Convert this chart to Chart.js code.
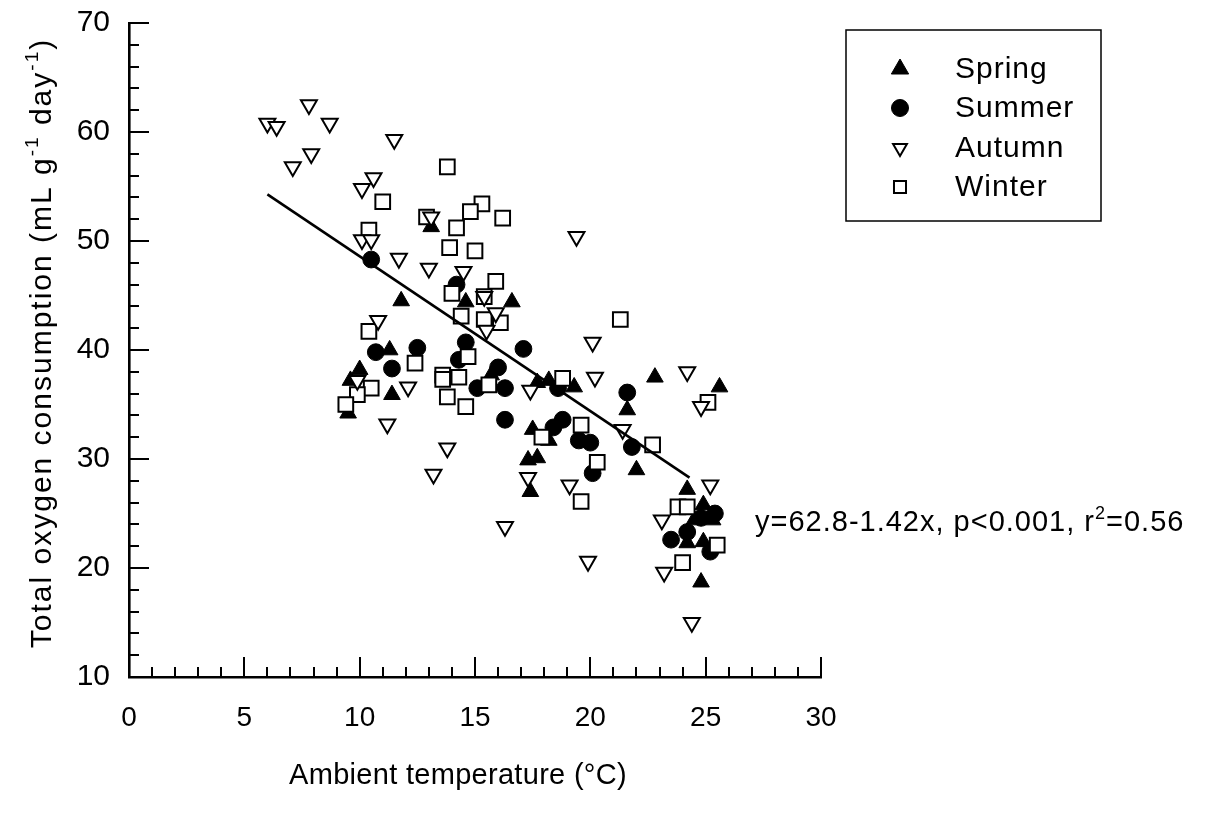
<!DOCTYPE html>
<html>
<head>
<meta charset="utf-8">
<title>Total oxygen consumption vs ambient temperature</title>
<script src="https://cdn.jsdelivr.net/npm/chart.js@4.4.1/dist/chart.umd.min.js"></script>
<style>
  html, body { margin: 0; padding: 0; background: #ffffff; }
  #wrap { width: 1220px; height: 818px; position: relative; }
</style>
</head>
<body>
<div id="wrap"><canvas id="chart" width="1220" height="818"></canvas></div>
<script>
// Ambient temperature (°C) and total oxygen consumption (mL g-1 day-1), per season
const springTemp = [13.1, 14.6, 16.6, 11.8, 11.3, 10.0, 9.6, 9.5, 11.4, 15.7, 17.7, 18.2, 19.3, 22.8, 21.6,
                    17.5, 18.2, 17.3, 17.7, 17.4, 22.0, 25.6, 24.2, 24.9, 25.3, 24.5, 24.2, 24.9, 24.8];
const springO2   = [51.3, 44.4, 44.4, 44.5, 40.0, 38.2, 37.2, 34.2, 35.9, 37.7, 37.0, 37.2, 36.6, 37.5, 34.5,
                    32.7, 31.7, 29.9, 30.1, 27.0, 29.0, 36.6, 27.2, 25.8, 24.4, 24.4, 22.3, 22.4, 18.7];

const summerTemp = [10.5, 14.2, 10.7, 11.4, 12.5, 14.6, 14.3, 16.0, 15.1, 16.3, 16.3, 17.1, 18.6, 21.6, 18.4,
                    18.8, 19.5, 20.0, 20.1, 21.8, 25.4, 24.8, 24.2, 23.5, 25.2];
const summerO2   = [48.3, 46.0, 39.8, 38.3, 40.2, 40.7, 39.1, 38.4, 36.5, 36.5, 33.6, 40.1, 36.5, 36.1, 32.9,
                    33.6, 31.7, 31.5, 28.7, 31.1, 25.0, 24.6, 23.3, 22.6, 21.5];

const autumnTemp = [6.0, 6.4, 7.8, 8.7, 11.5, 7.9, 7.1, 10.6, 10.1, 10.1, 10.5, 13.1, 11.7, 13.0, 14.5,
                    15.4, 15.9, 19.4, 10.8, 12.1, 11.2, 13.8, 13.2, 20.1, 20.2, 17.4, 21.4, 17.3, 19.1, 23.1,
                    16.3, 24.2, 24.8, 25.2, 23.2, 24.4, 19.9, 15.5, 9.9];
const autumnO2   = [60.8, 60.5, 62.5, 60.8, 59.3, 58.0, 56.8, 55.8, 54.8, 50.1, 50.1, 52.2, 48.4, 47.5, 47.2,
                    44.9, 43.4, 50.4, 42.7, 36.6, 33.2, 31.0, 28.6, 40.7, 37.5, 36.3, 32.7, 28.3, 27.6, 24.4,
                    23.8, 38.0, 34.8, 27.6, 19.6, 15.0, 20.6, 41.8, 37.2];

const winterTemp = [13.8, 11.0, 12.9, 15.3, 14.8, 16.2, 14.2, 13.9, 15.0, 15.9, 14.0, 15.4, 14.4, 15.4, 16.1,
                    10.4, 10.4, 12.4, 14.7, 13.6, 13.6, 14.3, 15.6, 13.8, 14.6, 10.5, 9.9, 9.4, 18.8, 17.9,
                    19.6, 20.3, 22.7, 19.6, 25.1, 23.8, 24.2, 25.5, 24.0, 21.3];
const winterO2   = [56.8, 53.6, 52.2, 53.4, 52.7, 52.1, 51.2, 49.4, 49.1, 46.3, 45.2, 44.9, 43.1, 42.8, 42.5,
                    51.0, 41.7, 38.8, 39.4, 37.7, 37.3, 37.5, 36.8, 35.7, 34.8, 36.5, 35.9, 35.0, 37.4, 32.0,
                    33.1, 29.7, 31.3, 26.1, 35.2, 25.6, 25.6, 22.1, 20.5, 42.8];

// Axis tick labels
const xTickValues = [0, 5, 10, 15, 20, 25, 30];
const yTickValues = [10, 20, 30, 40, 50, 60, 70];

// Fitted regression: y = 62.8 - 1.42x over the sampled temperature range
const fitIntercept = 62.8;
const fitSlope = -1.42;
const fitTempRange = [6.0, 24.3];
const fitLabel = ['y=62.8-1.42x, p<0.001, r', '2', '=0.56'];

const seasonNames = ['Spring', 'Summer', 'Autumn', 'Winter'];

const FONT = "'Liberation Sans', Arial, Helvetica, sans-serif";

function toPoints(xs, ys) {
  return xs.map((x, i) => ({ x: x, y: ys[i] }));
}

const fitPoints = fitTempRange.map(t => ({ x: t, y: fitIntercept + fitSlope * t }));

// Rich text helpers (plain + superscript runs)
function setFont(ctx, r, size) {
  ctx.font = (r.sup ? Math.round(size * 0.62) : size) + 'px ' + FONT;
}
function richWidth(ctx, runs, size) {
  let w = 0;
  runs.forEach(r => { setFont(ctx, r, size); w += ctx.measureText(r.t).width; });
  return w;
}
function drawRich(ctx, runs, size, startX, baseY) {
  let xPos = startX;
  runs.forEach(r => {
    setFont(ctx, r, size);
    ctx.fillText(r.t, xPos, r.sup ? baseY - size * 0.42 : baseY);
    xPos += ctx.measureText(r.t).width;
  });
}

// Inward tick marks, axis titles, legend box and regression annotation
const decorPlugin = {
  id: 'decor',
  afterDraw(chart) {
    const ctx = chart.ctx;
    const xs = chart.scales.x;
    const ys = chart.scales.y;
    const area = chart.chartArea;
    ctx.save();
    ctx.strokeStyle = '#000';
    ctx.fillStyle = '#000';
    ctx.lineWidth = 2;

    // x-axis ticks: every 1 °C, longer every 5
    for (let v = xs.min; v <= xs.max; v += 1) {
      const px = Math.round(xs.getPixelForValue(v));
      const len = (v % 5 === 0) ? 20 : 10;
      ctx.beginPath();
      ctx.moveTo(px, area.bottom);
      ctx.lineTo(px, area.bottom - len);
      ctx.stroke();
    }
    // y-axis ticks: every 2 units, longer every 10
    for (let v = ys.min; v <= ys.max; v += 2) {
      const py = Math.round(ys.getPixelForValue(v));
      const len = (v % 10 === 0) ? 20 : 10;
      ctx.beginPath();
      ctx.moveTo(area.left, py);
      ctx.lineTo(area.left + len, py);
      ctx.stroke();
    }

    ctx.textBaseline = 'alphabetic';
    ctx.textAlign = 'left';

    // x-axis title
    const xTitle = [{ t: 'Ambient temperature (°C)' }];
    ctx.letterSpacing = '0.3px';
    const xw = richWidth(ctx, xTitle, 29);
    drawRich(ctx, xTitle, 29, 458 - xw / 2, 784);

    // y-axis title (rotated)
    const yTitle = [
      { t: 'Total oxygen consumption (mL g' }, { t: '-1', sup: true },
      { t: ' day' }, { t: '-1', sup: true }, { t: ')' }
    ];
    ctx.save();
    ctx.letterSpacing = '2px';
    ctx.translate(51, 343);
    ctx.rotate(-Math.PI / 2);
    const yw = richWidth(ctx, yTitle, 30);
    drawRich(ctx, yTitle, 30, -yw / 2, 0);
    ctx.restore();

    // Regression annotation
    ctx.letterSpacing = '1px';
    const eq = [{ t: fitLabel[0] }, { t: fitLabel[1], sup: true }, { t: fitLabel[2] }];
    drawRich(ctx, eq, 29, 755, 531);

    // Legend box
    ctx.letterSpacing = '0px';
    const box = { l: 846, t: 30, r: 1101, b: 221 };
    ctx.lineWidth = 1.5;
    ctx.strokeRect(box.l, box.t, box.r - box.l, box.b - box.t);
    const rows = [69, 108, 148, 187];
    const legendRadius = { Spring: 10, Summer: 8.5, Autumn: 8, Winter: 8.5 };
    seasonNames.forEach((name, i) => {
      const ds = chart.data.datasets.find(d => d.label === name);
      ctx.save();
      ctx.fillStyle = ds.backgroundColor;
      ctx.strokeStyle = ds.borderColor;
      ctx.lineWidth = ds.borderWidth;
      Chart.helpers.drawPoint(ctx, {
        pointStyle: ds.pointStyle,
        rotation: ds.rotation || 0,
        radius: legendRadius[name],
        borderWidth: ds.borderWidth
      }, 900, rows[i]);
      ctx.restore();
      ctx.letterSpacing = '1px';
      ctx.font = '30px ' + FONT;
      ctx.textBaseline = 'middle';
      ctx.fillText(name, 955, rows[i] + 1);
    });
    ctx.restore();
  }
};

const chart = new Chart(document.getElementById('chart'), {
  type: 'scatter',
  data: {
    datasets: [
      {
        type: 'line',
        label: 'Regression',
        data: fitPoints,
        borderColor: '#000',
        borderWidth: 2.6,
        pointRadius: 0,
        fill: false,
        order: 0
      },
      {
        label: 'Autumn',
        data: toPoints(autumnTemp, autumnO2),
        pointStyle: 'triangle',
        rotation: 180,
        pointRadius: 9.2,
        backgroundColor: '#fff',
        borderColor: '#000',
        borderWidth: 2,
        order: 1
      },
      {
        label: 'Winter',
        data: toPoints(winterTemp, winterO2),
        pointStyle: 'rect',
        pointRadius: 10.4,
        backgroundColor: '#fff',
        borderColor: '#000',
        borderWidth: 2,
        order: 2
      },
      {
        label: 'Spring',
        data: toPoints(springTemp, springO2),
        pointStyle: 'triangle',
        pointRadius: 9.6,
        backgroundColor: '#000',
        borderColor: '#000',
        borderWidth: 1,
        order: 3
      },
      {
        label: 'Summer',
        data: toPoints(summerTemp, summerO2),
        pointStyle: 'circle',
        pointRadius: 8.4,
        backgroundColor: '#000',
        borderColor: '#000',
        borderWidth: 1,
        order: 4
      }
    ]
  },
  options: {
    responsive: false,
    animation: false,
    devicePixelRatio: 1,
    layout: { padding: { left: 0, top: 23, right: 399, bottom: 0 } },
    plugins: {
      legend: { display: false },
      tooltip: { enabled: false },
      title: { display: false }
    },
    elements: { point: { hoverRadius: 0 } },
    scales: {
      x: {
        type: 'linear',
        min: 0,
        max: 30,
        grid: { display: false, drawTicks: false },
        border: { display: true, color: '#000', width: 2.6 },
        afterBuildTicks: s => { s.ticks = xTickValues.map(v => ({ value: v })); },
        afterFit: s => { s.height = 818 - 677; s.paddingLeft = 0; s.paddingRight = 0; },
        ticks: {
          color: '#000',
          padding: 24,
          maxRotation: 0,
          autoSkip: false,
          font: { family: FONT, size: 28 }
        }
      },
      y: {
        type: 'linear',
        min: 10,
        max: 70,
        grid: { display: false, drawTicks: false },
        border: { display: true, color: '#000', width: 2.6 },
        afterBuildTicks: s => { s.ticks = yTickValues.map(v => ({ value: v })); },
        afterFit: s => { s.width = 129; s.paddingTop = 0; s.paddingBottom = 0; },
        ticks: {
          color: '#000',
          padding: 19,
          autoSkip: false,
          font: { family: FONT, size: 30 }
        }
      }
    }
  },
  plugins: [decorPlugin]
});
</script>
</body>
</html>
